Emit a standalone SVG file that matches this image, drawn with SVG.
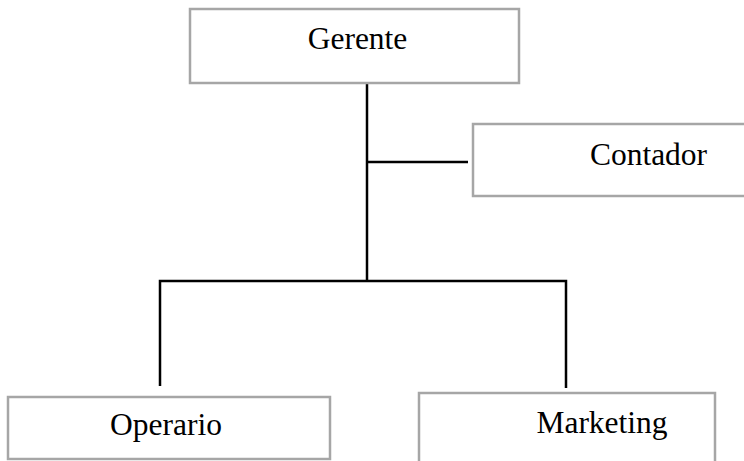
<svg xmlns="http://www.w3.org/2000/svg" width="744" height="461" viewBox="0 0 744 461">
<style>
.box{fill:#fff;stroke:#a6a6a6;stroke-width:2.5}
.lbl{font-family:"Liberation Serif","Times New Roman",serif;font-size:31.5px;fill:#000}
.ln{stroke:#000;stroke-width:2.5;fill:none}
</style>
<rect width="744" height="461" fill="#fff"/>
<g id="connectors">
<line class="ln" x1="367" y1="84" x2="367" y2="282"/>
<line class="ln" x1="367" y1="162" x2="468" y2="162"/>
<polyline class="ln" points="160,386 160,281 566,281 566,388"/>
</g>
<g id="gerente">
<rect class="box" x="190" y="9" width="329" height="74"/>
<text class="lbl" x="357.5" y="49" text-anchor="middle">Gerente</text>
</g>
<g id="contador">
<rect class="box" x="473" y="124" width="290" height="72"/>
<text class="lbl" x="648.5" y="165" text-anchor="middle">Contador</text>
</g>
<g id="operario">
<rect class="box" x="8" y="397" width="322" height="62"/>
<text class="lbl" x="166" y="435" text-anchor="middle">Operario</text>
</g>
<g id="marketing">
<rect class="box" x="419" y="393" width="296" height="80"/>
<text class="lbl" x="602" y="433" text-anchor="middle">Marketing</text>
</g>
</svg>
